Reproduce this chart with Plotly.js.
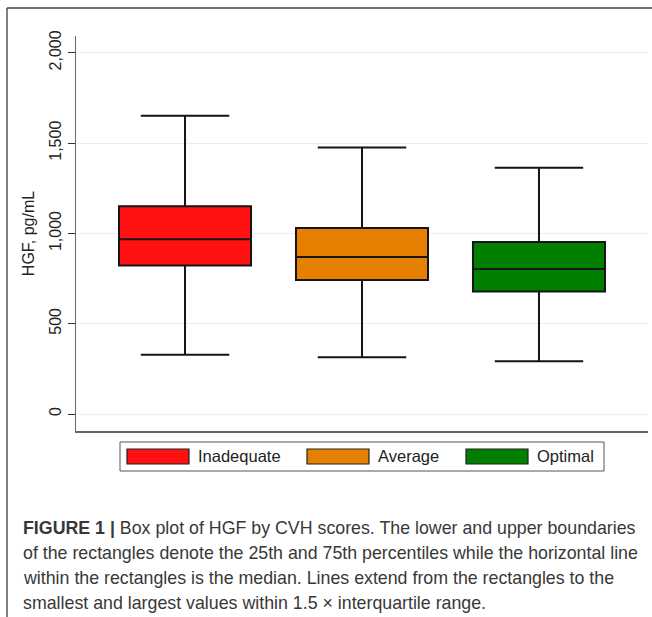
<!DOCTYPE html>
<html>
<head>
<meta charset="utf-8">
<script src="https://cdn.plot.ly/plotly-3.0.1.min.js"></script>
<style>html,body{margin:0;padding:0;background:#fff;}#chart{width:652px;height:617px;}</style>
</head>
<body>
<div id="chart"></div>
<script>
const categories = ['Inadequate', 'Average', 'Optimal'];
const lowerWhisker = [328, 314, 292];
const q1Values = [823, 742, 679];
const medianValues = [967, 869, 803];
const q3Values = [1150, 1030, 952];
const upperWhisker = [1652, 1475, 1364];
const boxColors = ['#ff1111', '#e58000', '#007f00'];
const yTickValues = [0, 500, 1000, 1500, 2000];
const yAxisTitle = 'HGF, pg/mL';
const captionLines = [
  '<b>FIGURE 1 |</b> Box plot of HGF by CVH scores. The lower and upper boundaries',
  'of the rectangles denote the 25th and 75th percentiles while the horizontal line',
  'within the rectangles is the median. Lines extend from the rectangles to the',
  'smallest and largest values within 1.5 \u00d7 interquartile range.'
];

const W = 652, H = 617;
const M = {l: 76, r: 4, t: 36, b: 186};
const plotW = W - M.l - M.r, plotH = H - M.t - M.b;
const px = x => (x - M.l) / plotW;
const py = y => (H - M.b - y) / plotH;
const FONT = 'Liberation Sans, Arial, sans-serif';

const traces = categories.map((c, i) => ({
  type: 'box',
  name: c,
  x: [c],
  q1: [q1Values[i]],
  median: [medianValues[i]],
  q3: [q3Values[i]],
  lowerfence: [lowerWhisker[i]],
  upperfence: [upperWhisker[i]],
  fillcolor: boxColors[i],
  line: {color: '#151515', width: 2},
  width: 0.746,
  whiskerwidth: 0.67,
  boxpoints: false,
  showlegend: false,
  hoverinfo: 'skip'
}));

const shapes = [];
const annotations = [];
// outer frame (left and top)
shapes.push({type: 'line', xref: 'paper', yref: 'paper', x0: px(7), x1: px(7), y0: py(8), y1: py(617), line: {color: '#555', width: 1.5}});
shapes.push({type: 'line', xref: 'paper', yref: 'paper', x0: px(7), x1: px(652), y0: py(8), y1: py(8), line: {color: '#444', width: 1.5}});
// legend box
shapes.push({type: 'rect', xref: 'paper', yref: 'paper', x0: px(120), x1: px(604), y0: py(442), y1: py(471), line: {color: '#555', width: 1}, fillcolor: 'rgba(0,0,0,0)'});
const swatchX = [127, 307, 466];
categories.forEach((c, i) => {
  shapes.push({type: 'rect', xref: 'paper', yref: 'paper', x0: px(swatchX[i]), x1: px(swatchX[i] + 62), y0: py(449), y1: py(464), line: {color: '#222', width: 1.2}, fillcolor: boxColors[i]});
  annotations.push({xref: 'paper', yref: 'paper', x: px(swatchX[i] + 69), y: py(456.5), xanchor: 'left', yanchor: 'middle', showarrow: false, text: c, font: {family: FONT, size: 16.5, color: '#222'}});
});
const capY = [527.5, 553, 578, 603];
captionLines.forEach((t, i) => {
  annotations.push({xref: 'paper', yref: 'paper', x: px(21), y: py(capY[i]), xanchor: 'left', yanchor: 'middle', showarrow: false, text: t, font: {family: FONT, size: 17.8, color: '#383838'}});
});

const layout = {
  width: W, height: H,
  margin: M,
  paper_bgcolor: '#fff', plot_bgcolor: '#fff',
  showlegend: false,
  boxmode: 'overlay',
  xaxis: {type: 'category', range: [-0.616, 2.616], showticklabels: false, ticks: '', showgrid: false, zeroline: false, showline: true, linecolor: '#666', linewidth: 1.5, fixedrange: true},
  yaxis: {range: [-94, 2093], tickvals: yTickValues, tickformat: ',d', tickangle: -90, ticks: 'outside', ticklen: 7, tickcolor: '#333', tickwidth: 1,
    tickfont: {family: FONT, size: 16, color: '#222'},
    showgrid: true, gridcolor: '#e6eff1', gridwidth: 1, zeroline: false, showline: true, linecolor: '#666', linewidth: 1.5,
    title: {text: yAxisTitle, font: {family: FONT, size: 16, color: '#222'}, standoff: 8}},
  shapes: shapes,
  annotations: annotations
};

Plotly.newPlot('chart', traces, layout, {displayModeBar: false, staticPlot: true});
</script>
</body>
</html>
